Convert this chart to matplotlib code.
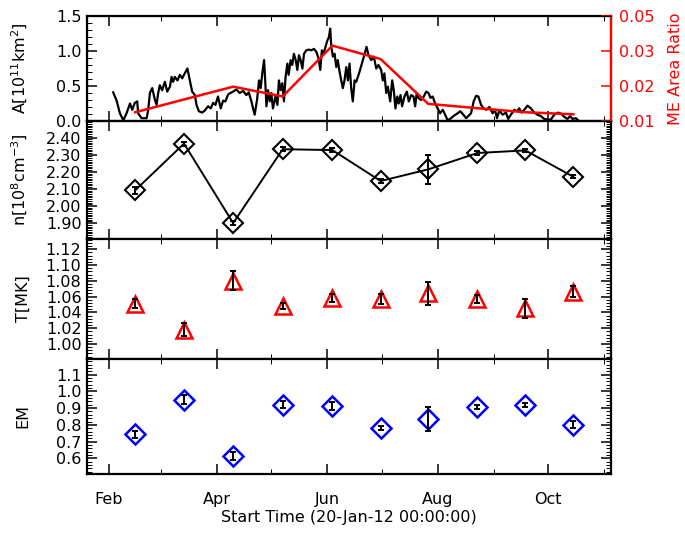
import numpy as np
import pandas as pd
import matplotlib
matplotlib.use("Agg")
import matplotlib.pyplot as plt
import matplotlib.dates as mdates
from matplotlib.ticker import MultipleLocator, FixedLocator

plt.rcParams["font.family"] = ["DejaVu Sans"]
plt.rcParams["mathtext.fontset"] = "dejavusans"

START = pd.Timestamp("2012-01-20")

# dias desde 20-Jan-12 de cada rotacion
rot_days = [26.7, 53.7, 80.9, 108.3, 135.8, 162.5, 188.8, 216.1, 242.6, 269.1]

# area (10^11 km^2), serie temporal
area_days = [
    14.5, 16.4, 18.2, 20.1, 21.9, 23.8, 25.0, 26.5, 27.8, 28.3, 30.2, 33.0, 33.9, 34.8,
    36.1, 37.6, 38.5, 39.4, 40.3, 41.6, 43.1, 44.4, 45.9, 46.8, 47.7, 48.6, 50.1, 51.4,
    52.7, 54.1, 55.6, 56.9, 58.2, 59.7, 60.6, 61.9, 63.7, 65.2, 67.0, 68.5, 69.8, 71.1,
    72.5, 74.0, 75.3, 76.6, 78.1, 80.8, 82.7, 84.5, 86.4, 88.2, 89.5, 91.0, 91.9, 92.8,
    94.1, 95.2, 96.1, 97.1, 98.0, 98.7, 99.3, 100.2, 101.1, 102.0, 102.9, 104.3, 105.4,
    106.2, 107.2, 108.1, 109.0, 109.9, 110.9, 111.6, 112.7, 113.6, 114.5, 115.5, 116.4,
    117.3, 118.2, 119.2, 120.1, 121.4, 122.7, 124.1, 125.6, 126.9, 128.2, 129.1, 130.0,
    130.9, 132.0, 133.0, 133.9, 134.6, 135.2, 136.1, 137.0, 138.0, 138.8, 139.8, 140.7,
    141.6, 142.5, 143.5, 144.4, 145.3, 146.2, 147.1, 148.1, 149.0, 150.8, 152.7, 154.0,
    154.7, 155.8, 157.3, 158.7, 160.1, 161.3, 162.8, 163.7, 164.6, 165.6, 166.5, 167.8,
    168.9, 169.8, 170.7, 171.7, 172.5, 173.5, 174.4, 175.7, 177.0, 178.1, 179.4, 180.7,
    181.6, 182.5, 183.4, 184.9, 186.4, 187.7, 189.0, 190.1, 191.3, 192.7, 194.1, 195.4,
    196.9, 198.2, 199.6, 201.5, 203.3, 205.1, 206.6, 208.3, 209.8, 211.0, 212.5, 214.0,
    215.3, 216.6, 218.1, 219.5, 221.0, 222.7, 224.5, 225.8, 226.9, 228.2, 230.0, 231.9,
    233.1, 234.6, 236.5, 238.0, 239.2, 240.5, 242.0, 243.8, 245.7, 247.5, 249.3, 251.2,
    253.0, 254.9, 256.7, 258.6, 260.8, 262.6, 264.1, 265.9, 267.4, 268.7, 270.6, 271.8,
]
area = [
    0.41, 0.29, 0.11, 0.01, 0.11, 0.25, 0.16, 0.26, 0.28, 0.11, 0.04, 0.04, 0.16, 0.40,
    0.47, 0.30, 0.23, 0.40, 0.51, 0.44, 0.56, 0.42, 0.49, 0.63, 0.56, 0.63, 0.58, 0.66,
    0.61, 0.68, 0.75, 0.58, 0.42, 0.37, 0.23, 0.14, 0.12, 0.15, 0.21, 0.18, 0.26, 0.23,
    0.35, 0.18, 0.29, 0.28, 0.38, 0.42, 0.45, 0.40, 0.43, 0.37, 0.41, 0.28, 0.18, 0.09,
    0.30, 0.58, 0.47, 0.70, 0.87, 0.54, 0.21, 0.44, 0.28, 0.40, 0.18, 0.35, 0.23,
    0.58, 0.44, 0.54, 0.28, 0.63, 0.82, 0.66, 0.87, 0.80, 0.96, 0.87, 0.73,
    0.94, 0.87, 0.75, 0.96, 1.01, 1.02, 1.01, 1.03, 0.99, 0.89, 0.73, 1.01,
    0.96, 1.06, 1.15, 1.20, 1.32, 1.06, 0.92, 0.96, 0.77, 0.87, 0.70, 0.58,
    0.47, 0.58, 0.77, 0.58, 0.82, 0.47, 0.28, 0.58, 0.56, 0.70, 0.87, 0.99,
    1.06, 0.94, 0.87, 0.92, 0.75, 0.80, 0.73, 0.58, 0.68, 0.40, 0.49, 0.28,
    0.58, 0.44, 0.18, 0.35, 0.25, 0.37, 0.21, 0.35, 0.42, 0.28, 0.37, 0.35,
    0.21, 0.40, 0.33, 0.30, 0.35, 0.42, 0.40, 0.33, 0.35, 0.25, 0.18, 0.11,
    0.16, 0.09, 0.01, 0.04, 0.08, 0.11, 0.14, 0.09, 0.04, 0.07, 0.11, 0.28,
    0.36, 0.35, 0.23, 0.18, 0.16, 0.20, 0.11, 0.16, 0.04, 0.15, 0.09, 0.12,
    0.03, 0.09, 0.16, 0.14, 0.18, 0.12, 0.16, 0.22, 0.18, 0.12, 0.09, 0.07,
    0.03, 0.02, 0.02, 0.09, 0.12, 0.10, 0.06, 0.03, 0.07, 0.03, 0.04, 0.01,
]

# razon de area ME (eje derecho)
me_ratio = [0.0166, 0.0204, 0.0242, 0.0213, 0.0364, 0.0324, 0.0191, 0.0178, 0.0166, 0.0160]
ratio_ticks = ["0.01", "0.02", "0.03", "0.05"]

dens = [2.092, 2.365, 1.900, 2.332, 2.327, 2.146, 2.214, 2.310, 2.325, 2.171]
dens_err = [0.020, 0.012, 0.012, 0.012, 0.012, 0.010, 0.087, 0.012, 0.010, 0.010]

temp = [1.051, 1.018, 1.080, 1.048, 1.058, 1.057, 1.064, 1.057, 1.045, 1.066]
temp_err = [0.006, 0.008, 0.012, 0.004, 0.005, 0.006, 0.015, 0.005, 0.012, 0.007]

em = [0.744, 0.951, 0.614, 0.920, 0.914, 0.781, 0.835, 0.908, 0.918, 0.802]
em_err = [0.020, 0.025, 0.025, 0.020, 0.025, 0.010, 0.070, 0.012, 0.010, 0.020]


def to_dates(days):
    return START + pd.to_timedelta(np.asarray(days), unit="D")


t_rot = to_dates(rot_days)
t_area = to_dates(area_days)

FS = 11.5
fig = plt.figure(figsize=(6.85, 5.34), dpi=100)
L, W = 87 / 685, 524 / 685
edges = [16, 121, 239, 359, 474]
axes = []
for i in range(4):
    b = 1 - edges[i + 1] / 534
    h = (edges[i + 1] - edges[i]) / 534
    axes.append(fig.add_axes([L, b, W, h]))
ax1, ax2, ax3, ax4 = axes

for ax in axes:
    ax.set_xlim(START, START + pd.Timedelta(days=290))
    ax.xaxis.set_major_locator(mdates.MonthLocator(bymonth=[2, 4, 6, 8, 10]))
    ax.xaxis.set_minor_locator(mdates.MonthLocator())
    ax.xaxis.set_major_formatter(mdates.DateFormatter("%b"))
    ax.tick_params(which="both", direction="in", top=True, right=True,
                   labelsize=FS, pad=4)
    ax.tick_params(which="major", length=7, width=1.1)
    ax.tick_params(which="minor", length=3.5, width=0.7)
    for s in ax.spines.values():
        s.set_linewidth(1.6)
    if ax is not ax4:
        ax.tick_params(axis="x", labelbottom=False)
    ax.yaxis.set_label_coords(-0.108, 0.5)

# panel 1: area + razon
ax1.plot(t_area, area, color="black", lw=1.6)
ax1.set_ylim(0, 1.5)
ax1.yaxis.set_major_locator(MultipleLocator(0.5))
ax1.yaxis.set_minor_locator(MultipleLocator(0.1))
ax1.yaxis.set_major_formatter(plt.FormatStrFormatter("%.1f"))
ax1.tick_params(axis="y", right=False, which="both")
ax1.set_ylabel(r"A[10$^{11}$km$^{2}$]", fontsize=FS)

ax1r = ax1.twinx()
ax1r.set_ylim(0.0140, 0.0452)
ax1r.yaxis.set_major_locator(FixedLocator(np.linspace(0.0140, 0.0452, 4)))
ax1r.set_yticklabels(ratio_ticks)
ax1r.plot(t_rot, me_ratio, color="red", lw=1.8)
ax1r.tick_params(axis="y", direction="in", colors="red", labelsize=FS, length=7,
                 width=1.1, pad=6)
ax1r.spines["right"].set_color("red")
ax1r.spines["right"].set_linewidth(1.6)
ax1r.set_ylabel("ME Area Ratio", color="red", fontsize=FS)
ax1r.yaxis.set_label_coords(1.109, 0.5)

# panel 2: densidad
ax2.plot(t_rot, dens, color="black", lw=1.4, marker="D", ms=10, mfc="none",
         mec="black", mew=1.5)
ax2.errorbar(t_rot, dens, yerr=dens_err, fmt="none", ecolor="black",
             elinewidth=1.4, capsize=2, capthick=1.4)
ax2.set_ylim(1.807, 2.497)
ax2.yaxis.set_major_locator(MultipleLocator(0.1))
ax2.yaxis.set_minor_locator(MultipleLocator(0.01))
ax2.yaxis.set_major_formatter(plt.FormatStrFormatter("%.2f"))
ax2.set_ylabel(r"n[10$^{8}$cm$^{-3}$]", fontsize=FS)

# panel 3: temperatura
ax3.plot(t_rot, temp, ls="none", marker="^", ms=11, mfc="none", mec="red", mew=1.8)
ax3.errorbar(t_rot, temp, yerr=temp_err, fmt="none", ecolor="black",
             elinewidth=1.4, capsize=2, capthick=1.4, zorder=3)
ax3.set_ylim(0.981, 1.133)
ax3.yaxis.set_major_locator(MultipleLocator(0.02))
ax3.yaxis.set_minor_locator(MultipleLocator(0.004))
ax3.yaxis.set_major_formatter(plt.FormatStrFormatter("%.2f"))
ax3.set_ylabel("T[MK]", fontsize=FS)

# panel 4: EM
ax4.plot(t_rot, em, ls="none", marker="D", ms=10, mfc="none", mec="blue", mew=1.8)
ax4.errorbar(t_rot, em, yerr=em_err, fmt="none", ecolor="black",
             elinewidth=1.4, capsize=2, capthick=1.4, zorder=3)
ax4.set_ylim(0.507, 1.193)
ax4.yaxis.set_major_locator(MultipleLocator(0.1))
ax4.yaxis.set_minor_locator(MultipleLocator(0.02))
ax4.yaxis.set_major_formatter(plt.FormatStrFormatter("%.1f"))
ax4.set_ylabel("EM", fontsize=FS)
ax4.tick_params(axis="x", which="major", pad=13)
ax4.set_xlabel("Start Time (20-Jan-12 00:00:00)", fontsize=FS, labelpad=2)

fig.savefig("out.png", dpi=100)
